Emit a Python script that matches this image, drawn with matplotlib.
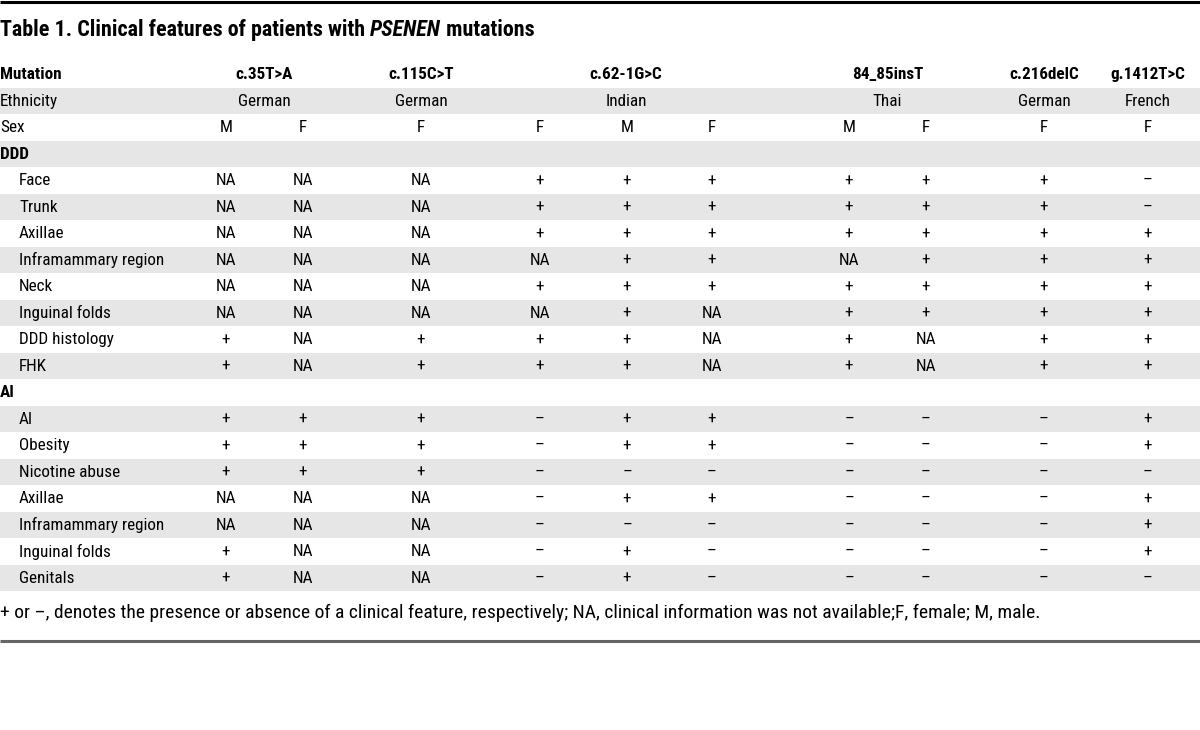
import matplotlib
matplotlib.use("Agg")
import matplotlib.pyplot as plt
from matplotlib import font_manager as fm
from matplotlib.patches import Rectangle

# ---------------- data ----------------
groups = ["c.35T>A", "c.115C>T", "c.62-1G>C", "84_85insT", "c.216delC", "g.1412T>C"]
ethnicity = ["German", "German", "Indian", "Thai", "German", "French"]
group_sizes = [2, 1, 3, 2, 1, 1]
sex = ["M", "F", "F", "F", "M", "F", "M", "F", "F", "F"]

ddd_features = ["Face", "Trunk", "Axillae", "Inframammary region", "Neck",
                "Inguinal folds", "DDD histology", "FHK"]
ddd_values = [
    ["NA", "NA", "NA", "+", "+", "+", "+", "+", "+", "–"],
    ["NA", "NA", "NA", "+", "+", "+", "+", "+", "+", "–"],
    ["NA", "NA", "NA", "+", "+", "+", "+", "+", "+", "+"],
    ["NA", "NA", "NA", "NA", "+", "+", "NA", "+", "+", "+"],
    ["NA", "NA", "NA", "+", "+", "+", "+", "+", "+", "+"],
    ["NA", "NA", "NA", "NA", "+", "NA", "+", "+", "+", "+"],
    ["+", "NA", "+", "+", "+", "NA", "+", "NA", "+", "+"],
    ["+", "NA", "+", "+", "+", "NA", "+", "NA", "+", "+"],
]
ai_features = ["AI", "Obesity", "Nicotine abuse", "Axillae", "Inframammary region",
               "Inguinal folds", "Genitals"]
ai_values = [
    ["+", "+", "+", "–", "+", "+", "–", "–", "–", "+"],
    ["+", "+", "+", "–", "+", "+", "–", "–", "–", "+"],
    ["+", "+", "+", "–", "–", "–", "–", "–", "–", "–"],
    ["NA", "NA", "NA", "–", "+", "+", "–", "–", "–", "+"],
    ["NA", "NA", "NA", "–", "–", "–", "–", "–", "–", "+"],
    ["+", "NA", "NA", "–", "+", "–", "–", "–", "–", "+"],
    ["+", "NA", "NA", "–", "+", "–", "–", "–", "–", "–"],
]
title_parts = ["Table 1. Clinical features of patients with ", "PSENEN", " mutations"]
footnote = ("+ or –, denotes the presence or absence of a clinical feature, respectively; "
            "NA, clinical information was not available;F, female; M, male.")

# ---------------- fonts ----------------
available = {f.name for f in fm.fontManager.ttflist}
family = "DejaVu Sans"
for cand in ["Liberation Sans Narrow", "Roboto Condensed", "Roboto", "Liberation Sans"]:
    if cand in available:
        family = cand
        break
plt.rcParams["font.family"] = [family, "DejaVu Sans"]

# ---------------- layout ----------------
W, H = 1200, 730
fig = plt.figure(figsize=(W / 100, H / 100), dpi=100)
ax = fig.add_axes([0, 0, 1, 1])
ax.set_xlim(0, W)
ax.set_ylim(H, 0)
ax.axis("off")

col_x = [226, 303, 421, 540, 627, 712, 849, 926, 1044, 1148]
row_top0 = 61.0
row_h = 26.5
label_x = 0
indent_x = 19
fs = 12.3
shade = "#e6e6e6"

rows = []
rows.append(("header", "Mutation", None))
rows.append(("eth", "Ethnicity", None))
rows.append(("sex", "Sex", sex))
rows.append(("section", "DDD", None))
for f, v in zip(ddd_features, ddd_values):
    rows.append(("data", f, v))
rows.append(("section", "AI", None))
for f, v in zip(ai_features, ai_values):
    rows.append(("data", f, v))

group_centres = []
idx = 0
for n in group_sizes:
    xs = col_x[idx:idx + n]
    group_centres.append((xs[0] + xs[-1]) / 2)
    idx += n

for i, (kind, label, vals) in enumerate(rows):
    top = row_top0 + i * row_h
    yc = top + row_h / 2 + 0.5
    if i % 2 == 1:
        ax.add_patch(Rectangle((0, top), W, row_h, facecolor=shade, edgecolor="none", zorder=0))
    weight = "bold" if kind in ("header", "section") else "normal"
    lx = indent_x if kind == "data" else label_x
    ax.text(lx, yc, label, fontsize=fs, fontweight=weight, va="center", ha="left", color="black")
    if kind == "header":
        for gx, g in zip(group_centres, groups):
            ax.text(gx, yc, g, fontsize=fs, fontweight="bold", va="center", ha="center")
    elif kind == "eth":
        for gx, e in zip(group_centres, ethnicity):
            ax.text(gx, yc, e, fontsize=fs, va="center", ha="center")
    elif vals is not None:
        for x, v in zip(col_x, vals):
            ax.text(x, yc, v, fontsize=fs, va="center", ha="center")

# title (with italic gene name)
tfs = 15.8
t1 = ax.text(0, 30, title_parts[0], fontsize=tfs, fontweight="bold", va="center", ha="left")
t2 = ax.annotate(title_parts[1], xy=(1, 0), xycoords=t1, va="bottom", ha="left",
                 fontsize=tfs, fontweight="bold", fontstyle="italic")
t3 = ax.annotate(title_parts[2], xy=(1, 0), xycoords=t2, va="bottom", ha="left",
                 fontsize=tfs, fontweight="bold")

# footnote
ax.text(0, 613, footnote, fontsize=14, va="center", ha="left")

# rules
ax.plot([0, W], [1.5, 1.5], color="black", lw=2.2, solid_capstyle="butt")
ax.plot([0, W], [640.5, 640.5], color="#666666", lw=2.2, solid_capstyle="butt")

fig.savefig("out.png", dpi=100)
